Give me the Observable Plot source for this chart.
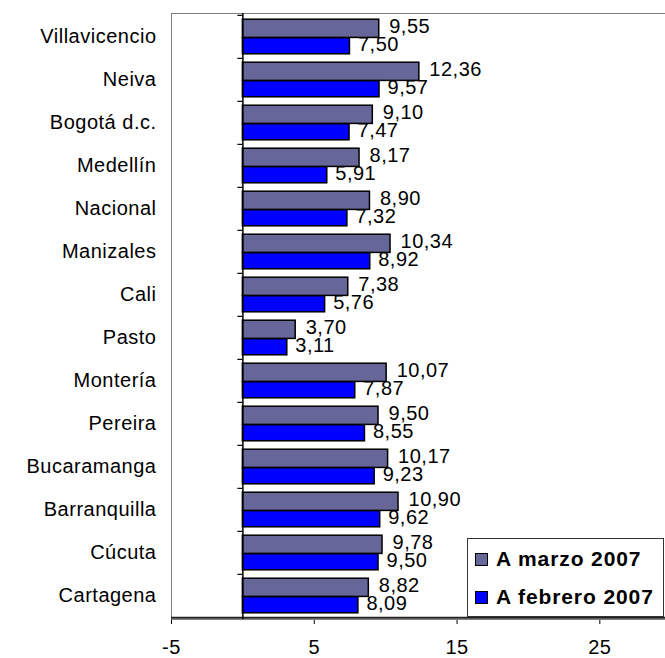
<!DOCTYPE html>
<html>
<head>
<meta charset="utf-8">
<script src="https://cdn.jsdelivr.net/npm/d3@7"></script>
<script src="https://cdn.jsdelivr.net/npm/@observablehq/plot@0.6"></script>
<style>
  html, body { margin: 0; padding: 0; background: #fff; }
  #wrap { position: relative; width: 665px; height: 658px; overflow: hidden; }
  #legend {
    position: absolute; left: 467px; top: 538px; width: 197px; height: 79px;
    border: 1.5px solid #333; background: #fff; box-sizing: border-box;
    font-family: "Liberation Sans", Arial, sans-serif; font-weight: bold;
    font-size: 21px; letter-spacing: 0.9px; color: #000;
  }
  #legend .row { position: absolute; left: 7px; display: flex; align-items: center; white-space: nowrap; }
  #legend .sw { width: 11px; height: 11px; border: 1.5px solid #000; margin-right: 8px; }
</style>
</head>
<body>
<div id="wrap"><div id="chart"></div><div id="legend"></div></div>
<script>
const cities = ["Villavicencio","Neiva","Bogotá d.c.","Medellín","Nacional","Manizales","Cali","Pasto","Montería","Pereira","Bucaramanga","Barranquilla","Cúcuta","Cartagena"];
const marzo = [9.55,12.36,9.10,8.17,8.90,10.34,7.38,3.70,10.07,9.50,10.17,10.90,9.78,8.82];
const febrero = [7.50,9.57,7.47,5.91,7.32,8.92,5.76,3.11,7.87,8.55,9.23,9.62,9.50,8.09];
const xTicks = [-5, 5, 15, 25];
const seriesNames = ["A marzo 2007", "A febrero 2007"];
const seriesColors = ["#666699", "#0000FF"];

const W = 665, H = 658, mL = 171, mT = 13, mB = 39, mR = 0;
const xDomain = [-5, 29.6];
const step = (H - mT - mB) / cities.length;
const pxPerUnit = (W - mL - mR) / (xDomain[1] - xDomain[0]);

const dMarzo = cities.map((c, i) => ({city: c, value: marzo[i]}));
const dFeb = cities.map((c, i) => ({city: c, value: febrero[i]}));
const fmt = v => v.toFixed(2).replace(".", ",");

const half = step / 2;
const outer = 4.2;

const chart = Plot.plot({
  width: W, height: H,
  marginLeft: mL, marginTop: mT, marginBottom: mB, marginRight: mR,
  style: {fontFamily: "Liberation Sans, Arial, sans-serif", fontSize: "20px", letterSpacing: "0.5px", color: "#000", background: "#fff"},
  x: {domain: xDomain, ticks: xTicks, tickFormat: d => String(d), tickSize: 5, tickPadding: 15, label: null},
  y: {domain: cities, padding: 0, tickSize: 0, tickPadding: 15, label: null},
  marks: [
    Plot.frame({stroke: "#808080", strokeWidth: 1}),
    Plot.ruleY([cities[cities.length - 1]], {stroke: "#222", strokeWidth: 2, dy: half}),
    Plot.barX(dMarzo, {x: "value", y: "city", fill: seriesColors[0], stroke: "#000", strokeWidth: 1.5, insetTop: outer, insetBottom: step - half - outer / 4}),
    Plot.barX(dFeb, {x: "value", y: "city", fill: seriesColors[1], stroke: "#000", strokeWidth: 1.5, insetTop: half + outer / 4, insetBottom: outer}),
    Plot.ruleX([0], {stroke: "#000", strokeWidth: 1.5}),
    Plot.ruleY(cities, {y: d => d, x1: 0, x2: -5 / pxPerUnit, stroke: "#000", strokeWidth: 1.2, dy: -half}),
    Plot.text(dMarzo, {x: "value", y: "city", text: d => fmt(d.value), textAnchor: "start", dx: 10, dy: -10, fontSize: 20, fill: "#000"}),
    Plot.text(dFeb, {x: "value", y: "city", text: d => fmt(d.value), textAnchor: "start", dx: 8, dy: 8, fontSize: 20, fill: "#000"})
  ]
});
document.getElementById("chart").appendChild(chart);

const legend = document.getElementById("legend");
const rowTops = [8, 46];
seriesNames.forEach((name, i) => {
  const row = document.createElement("div");
  row.className = "row";
  row.style.top = rowTops[i] + "px";
  const sw = document.createElement("div");
  sw.className = "sw";
  sw.style.background = seriesColors[i];
  const t = document.createElement("span");
  t.textContent = name;
  row.appendChild(sw); row.appendChild(t);
  legend.appendChild(row);
});
</script>
</body>
</html>
